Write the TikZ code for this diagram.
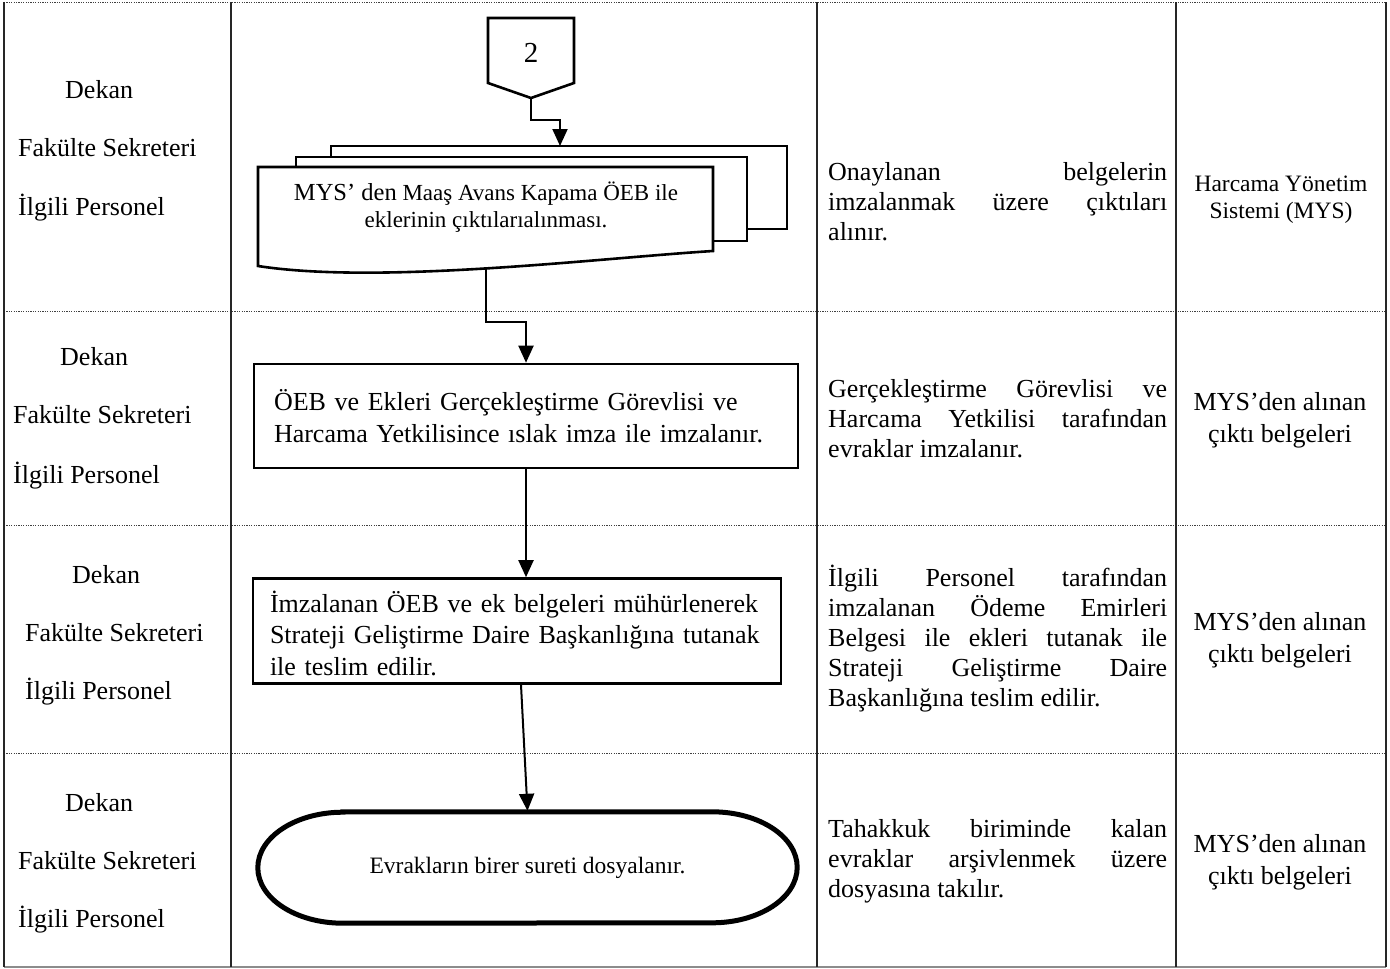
\documentclass[tikz,border=0pt]{standalone}
\usepackage{fontspec}
\setmainfont{Liberation Serif}
\usetikzlibrary{arrows.meta,calc}
\newlength{\jw}\setlength{\jw}{339pt}
\newcommand{\jl}[1]{\makebox[\jw][s]{#1}}
\tikzset{
  grid/.style={line width=1.4pt,black!85},
  dots/.style={line width=1pt,black!75,dash pattern=on 1.2pt off 1.2pt},
  role/.style={anchor=west,inner sep=0pt,font=\fontsize{26}{30}\selectfont},
  desc/.style={anchor=west,inner sep=0pt,align=left,font=\fontsize{26}{30}\selectfont},
  src/.style={inner sep=0pt,align=center,font=\fontsize{26}{32}\selectfont},
  shapeline/.style={line width=2.6pt,black,line join=miter},
  proc/.style={draw,shapeline,inner ysep=0pt,align=left,font=\fontsize{26}{31.5}\selectfont},
  arr/.style={line width=2pt,-{Triangle[length=17pt,width=15pt]}},
}
\begin{document}
\begin{tikzpicture}[x=1pt,y=-1pt]
\useasboundingbox (0,0) rectangle (1390,969);
% table
\draw[dots] (4,2) -- (1386,2);
\draw[dots] (4,311) -- (1386,311);
\draw[dots] (4,525) -- (1386,525);
\draw[dots] (4,753) -- (1386,753);
\draw[line width=1.4pt,black!45] (4,967) -- (1386,967);
\foreach \xx in {4,231,817,1176,1386} \draw[grid] (\xx,2) -- (\xx,967);
% left column
\node[role] (d1) at (65,90) {Dekan};
\node[role] (f1) at (18,148) {Fakülte Sekreteri};
\node[role] (p1) at (18,208) {İlgili Personel};
\node[role] (d2) at (60,357) {Dekan};
\node[role] (f2) at (13,415) {Fakülte Sekreteri};
\node[role] (p2) at (13,476) {İlgili Personel};
\node[role] (d3) at (72,575) {Dekan};
\node[role] (f3) at (25,633) {Fakülte Sekreteri};
\node[role] (p3) at (25,692) {İlgili Personel};
\node[role] (d4) at (65,803) {Dekan};
\node[role] (f4) at (18,861) {Fakülte Sekreteri};
\node[role] (p4) at (18,920) {İlgili Personel};
% off-page connector
\draw[shapeline,fill=white] (488,18) -- (574,18) -- (574,83) -- (531,98) -- (488,83) -- cycle;
\node[inner sep=0pt,font=\fontsize{29}{30}\selectfont] (n2) at (531,53) {2};
\coordinate (c2tip) at (531,98);
% multi-document
\draw[shapeline,fill=white] (331,146) rectangle (787,229);
\draw[shapeline,fill=white] (296,157) rectangle (747,241);
\draw[shapeline,fill=white] (258,167) -- (713,167) -- (713,251) .. controls (600,258) and (380,285) .. (258,266) -- cycle;
\coordinate (backtop) at (560,146);
\coordinate (docbot) at (486,268);
\node[inner sep=0pt,align=center,font=\fontsize{23}{27}\selectfont] (doc) at (486,207) {{\fontsize{24.5}{27}\selectfont MYS’ den} Maaş Avans Kapama ÖEB ile\\eklerinin çıktılarıalınması.};
% process boxes
\node[proc,inner xsep=20pt,text width=504pt,minimum height=104pt] (b2) at (526,416) {ÖEB ve Ekleri Gerçekleştirme Görevlisi ve\\Harcama Yetkilisince ıslak imza ile imzalanır.};
\node[proc,inner xsep=17pt,text width=494pt,minimum height=105pt] (b3) at (517,631) {\raisebox{0pt}[26pt][0pt]{}İmzalanan ÖEB ve ek belgeleri mühürlenerek\\Strateji Geliştirme Daire Başkanlığına tutanak\\ile teslim edilir.};
% terminator
\node[inner sep=0pt,minimum width=539pt,minimum height=111pt,font=\fontsize{23.5}{27}\selectfont] (term) at (527.5,867.5) {Evrakların birer sureti dosyalanır.};
\draw[line width=5pt] ([xshift=85pt]term.north west) -- ([xshift=-85pt]term.north east)
  arc[start angle=-90,end angle=90,x radius=85,y radius=55.5]
  -- ([xshift=85pt]term.south west)
  arc[start angle=90,end angle=270,x radius=85,y radius=55.5] -- cycle;
% connectors
\draw[arr] (c2tip) -- ++(0,22) -| (backtop);
\draw[arr] (docbot) -- ++(0,54) -| (b2.north);
\draw[arr] (b2.south) -- (b2.south |- b3.north);
\draw[arr] ([xshift=4pt]b3.south) -- ([yshift=1pt]term.north);
% description column
\node[desc] (t1) at (828,202) {\jl{Onaylanan belgelerin}\\\jl{imzalanmak üzere çıktıları}\\alınır.};
\node[desc] (t2) at (828,419) {\jl{Gerçekleştirme Görevlisi ve}\\\jl{Harcama Yetkilisi tarafından}\\evraklar imzalanır.};
\node[desc] (t3) at (828,639) {\jl{İlgili Personel tarafından}\\\jl{imzalanan Ödeme Emirleri}\\\jl{Belgesi ile ekleri tutanak ile}\\\jl{Strateji Geliştirme Daire}\\Başkanlığına teslim edilir.};
\node[desc] (t4) at (828,861) {\jl{Tahakkuk biriminde kalan}\\\jl{evraklar arşivlenmek üzere}\\dosyasına takılır.};
% source column
\node[src,font=\fontsize{23.5}{27}\selectfont] (s1) at (1281,200) {Harcama Yönetim\\Sistemi (MYS)};
\node[src] (s2) at (1280,420) {MYS’den alınan\\çıktı belgeleri};
\node[src] (s3) at (1280,640) {MYS’den alınan\\çıktı belgeleri};
\node[src] (s4) at (1280,862) {MYS’den alınan\\çıktı belgeleri};
\end{tikzpicture}
\end{document}
